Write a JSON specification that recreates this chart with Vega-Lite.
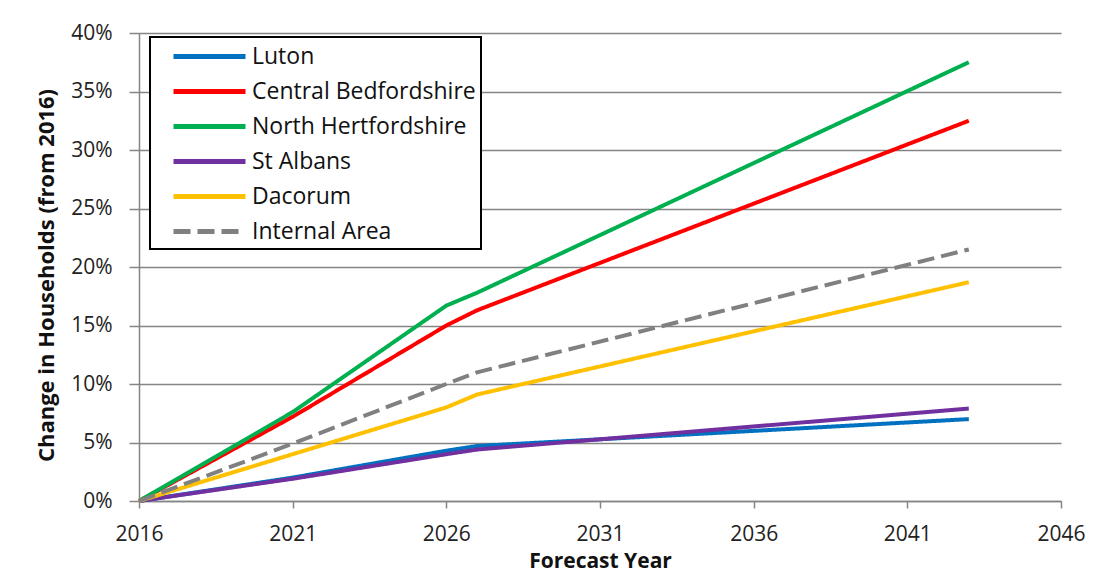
{
  "$schema": "https://vega.github.io/schema/vega-lite/v6.json",
  "width": 922,
  "height": 468,
  "autosize": {"type": "none"},
  "padding": {"left": 139, "top": 33, "right": 49, "bottom": 78},
  "background": "white",
  "data": {
    "values": [
      {"region": "Luton", "year": 2016, "change": 0.0},
      {"region": "Luton", "year": 2021, "change": 2.0},
      {"region": "Luton", "year": 2026, "change": 4.3},
      {"region": "Luton", "year": 2027, "change": 4.7},
      {"region": "Luton", "year": 2043, "change": 7.0},
      {"region": "Central Bedfordshire", "year": 2016, "change": 0.0},
      {"region": "Central Bedfordshire", "year": 2021, "change": 7.2},
      {"region": "Central Bedfordshire", "year": 2026, "change": 15.0},
      {"region": "Central Bedfordshire", "year": 2027, "change": 16.3},
      {"region": "Central Bedfordshire", "year": 2043, "change": 32.5},
      {"region": "North Hertfordshire", "year": 2016, "change": 0.0},
      {"region": "North Hertfordshire", "year": 2021, "change": 7.6},
      {"region": "North Hertfordshire", "year": 2026, "change": 16.7},
      {"region": "North Hertfordshire", "year": 2027, "change": 17.8},
      {"region": "North Hertfordshire", "year": 2043, "change": 37.5},
      {"region": "St Albans", "year": 2016, "change": 0.0},
      {"region": "St Albans", "year": 2021, "change": 1.9},
      {"region": "St Albans", "year": 2026, "change": 4.0},
      {"region": "St Albans", "year": 2027, "change": 4.4},
      {"region": "St Albans", "year": 2043, "change": 7.9},
      {"region": "Dacorum", "year": 2016, "change": 0.0},
      {"region": "Dacorum", "year": 2021, "change": 4.0},
      {"region": "Dacorum", "year": 2026, "change": 8.0},
      {"region": "Dacorum", "year": 2027, "change": 9.1},
      {"region": "Dacorum", "year": 2043, "change": 18.7},
      {"region": "Internal Area", "year": 2016, "change": 0.0},
      {"region": "Internal Area", "year": 2021, "change": 4.9},
      {"region": "Internal Area", "year": 2026, "change": 10.0},
      {"region": "Internal Area", "year": 2027, "change": 11.0},
      {"region": "Internal Area", "year": 2043, "change": 21.5}
    ]
  },
  "mark": {"type": "line", "strokeWidth": 4, "interpolate": "linear"},
  "encoding": {
    "x": {
      "field": "year",
      "type": "quantitative",
      "scale": {"domain": [2016, 2046], "nice": false, "zero": false},
      "axis": {
        "title": "Forecast Year",
        "values": [2016, 2021, 2026, 2031, 2036, 2041, 2046],
        "format": "d",
        "grid": false,
        "labelFlush": false,
        "tickSize": 7,
        "labelPadding": 15,
        "titleY": 60,
        "titleFontSize": 21,
        "titleBaseline": "middle"
      }
    },
    "y": {
      "field": "change",
      "type": "quantitative",
      "scale": {"domain": [0, 40], "nice": false},
      "axis": {
        "title": "Change in Households  (from 2016)",
        "values": [0, 5, 10, 15, 20, 25, 30, 35, 40],
        "labelExpr": "datum.value + '%'",
        "grid": true,
        "labelFlush": false,
        "tickSize": 10,
        "labelPadding": 17,
        "titleX": -93,
        "titleY": 242,
        "titleAngle": -90,
        "titleFontSize": 22,
        "titleAlign": "center",
        "titleBaseline": "middle"
      }
    },
    "color": {
      "field": "region",
      "type": "nominal",
      "scale": {
        "domain": ["Luton", "Central Bedfordshire", "North Hertfordshire", "St Albans", "Dacorum", "Internal Area"],
        "range": ["#0070C0", "#FF0000", "#00B050", "#7030A0", "#FFC000", "#808080"]
      },
      "legend": {"title": null}
    },
    "strokeDash": {
      "field": "region",
      "type": "nominal",
      "scale": {
        "domain": ["Luton", "Central Bedfordshire", "North Hertfordshire", "St Albans", "Dacorum", "Internal Area"],
        "range": [[1, 0], [1, 0], [1, 0], [1, 0], [1, 0], [17, 7]]
      },
      "legend": {"title": null}
    }
  },
  "config": {
    "font": "Open Sans",
    "view": {"stroke": null},
    "axis": {
      "labelFont": "Open Sans",
      "labelFontSize": 21,
      "labelColor": "#222222",
      "titleFont": "Open Sans",
      "titleFontWeight": "bold",
      "titleColor": "#111111",
      "domainColor": "#858585",
      "domainWidth": 1.5,
      "tickColor": "#858585",
      "tickWidth": 1.5,
      "gridColor": "#858585",
      "gridWidth": 1.5
    },
    "legend": {
      "orient": "none",
      "legendX": 11,
      "legendY": 4,
      "direction": "vertical",
      "padding": 5,
      "fillColor": "white",
      "strokeColor": "#000000",
      "strokeWidth": 2,
      "symbolType": "M-3,0H3",
      "symbolSize": 576,
      "symbolStrokeWidth": 5,
      "symbolOffset": 40,
      "labelOffset": 28,
      "rowPadding": 8,
      "labelFont": "Open Sans",
      "labelFontSize": 23,
      "labelColor": "#111111",
      "labelLimit": 400
    }
  }
}
